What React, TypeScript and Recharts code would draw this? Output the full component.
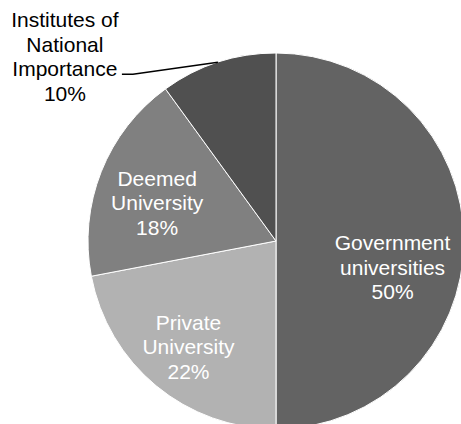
import { PieChart, Pie, Cell } from 'recharts';

const categories = ['Government\nuniversities', 'Private\nUniversity', 'Deemed\nUniversity', 'Institutes of\nNational\nImportance'];
const shares = [50, 22, 18, 10];
const colors = ['#636363', '#b2b2b2', '#808080', '#505050'];

const data = categories.map((name, i) => ({ name, value: shares[i] }));

// label placement per slice: radius factor along the slice middle + small nudges
const labelLayout = [
  { f: 0.62, dy: 26 },
  { f: 0.73, dy: 0 },
  { f: 0.68, dy: 9 },
  { outside: true },
];

const RADIAN = Math.PI / 180;
const LINE = 24.5;

const renderLabel = (props) => {
  const { cx, cy, midAngle, outerRadius, index, name, value } = props;
  const lines = [...String(name).split('\n'), `${value}%`];
  const layout = labelLayout[index];
  const cos = Math.cos(-midAngle * RADIAN);
  const sin = Math.sin(-midAngle * RADIAN);
  const textBlock = (x, y, fill) => (
    <text x={x} y={y} textAnchor="middle" fill={fill} fontSize={21} fontFamily="'Liberation Sans', Arial, sans-serif">
      {lines.map((l, i) => (
        <tspan key={i} x={x} y={y + (i - (lines.length - 1) / 2) * LINE + 7.5}>{l}</tspan>
      ))}
    </text>
  );
  if (layout.outside) {
    const x0 = cx + outerRadius * cos;
    const y0 = cy + outerRadius * sin;
    const x1 = x0 - 85;
    const y1 = y0 + 12;
    const x2 = x1 - 11;
    return (
      <g>
        <polyline points={`${x0},${y0} ${x1},${y1} ${x2},${y1}`} fill="none" stroke="#000" strokeWidth={1.5} />
        {textBlock(x2 - 57, y1 - 17.5, '#000')}
      </g>
    );
  }
  const r = outerRadius * layout.f;
  return textBlock(cx + r * cos, cy + r * sin + layout.dy, '#fff');
};

export default function App() {
  return (
    <div style={{ position: 'absolute', left: 0, top: 0, background: '#fff' }}>
      <PieChart width={461} height={424} margin={{ top: 0, right: 0, bottom: 0, left: 0 }}>
        <Pie
          data={data}
          dataKey="value"
          nameKey="name"
          cx={276}
          cy={241}
          outerRadius={188}
          startAngle={90}
          endAngle={-270}
          stroke="#ffffff"
          strokeWidth={1}
          label={renderLabel}
          labelLine={false}
          isAnimationActive={false}
        >
          {data.map((d, i) => (
            <Cell key={i} fill={colors[i]} />
          ))}
        </Pie>
      </PieChart>
    </div>
  );
}
